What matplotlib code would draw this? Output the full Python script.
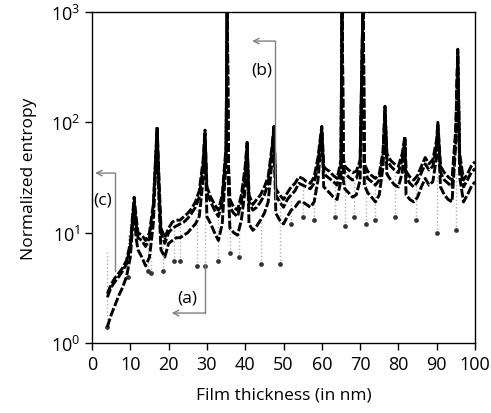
import matplotlib
matplotlib.use("Agg")
import matplotlib.pyplot as plt
import numpy as np

plt.rcParams['font.family'] = ['Open Sans', 'DejaVu Sans']

thickness = [4,5,6,7,8,9,10,11,11.5,12,13,14,15,16,17,17.5,18,19,20,21,22,23,24,25,26,27,28,29,29.5,
             30,31,32,33,34,35,35.3,35.6,36,37,38,39,40,40.5,41,42,43,44,45,46,47,47.5,48,49,50,
             51,52,53,54,55,56,57,58,59,60,60.5,61,62,63,64,65,65.3,65.6,66,67,68,69,70,70.8,71.1,
             72,73,74,75,76,76.5,77,78,79,80,81,81.7,82,83,84,85,86,87,88,89,90,90.3,91,92,93,94,
             95,95.5,96,97,98,99,100]

entropy_c = [2.8,3.4,3.9,4.3,4.8,5.6,8,21,14,10,9.5,8.5,10,18,92,30,11,9,11,12.5,13,13,14,15,16.5,19,24,45,85,
             26,21,18,16,22,60,1500,45,20,17,16,22,40,66,22,18,20,22,26,32,60,92,25,22,20,
             23,26,28,32,31,29,28,32,48,92,40,38,36,33,31,45,1500,48,40,37,35,36,45,1500,42,
             36,33,31,34,55,140,52,45,42,40,52,75,36,32,30,33,40,48,42,46,70,100,40,35,32,30,
             90,460,52,30,34,40,44]

entropy_b = [2.6,3.2,3.6,4.0,4.5,5.2,7.5,19,12,9,8.5,7.5,9,16,85,26,10,8,10,11,11.5,12,12.5,13.5,15,17,21,40,80,
             23,19,16,14,19,55,1500,40,17,15,14,19,35,62,19,16,17,19,22,28,55,88,22,19,17,
             20,22,24,28,27,26,25,28,42,88,35,33,31,29,27,40,1500,42,35,32,30,31,40,1500,37,
             31,29,27,30,50,130,46,40,37,35,46,70,32,28,26,29,35,42,37,40,62,95,35,30,28,26,
             80,430,45,26,30,35,38]

entropy_a = [1.4,1.8,2.2,2.7,3.2,4.0,6,17,9,7,6,5,6,12,80,18,7,6,8,8.5,9,9,9.5,10,11,12,14,30,70,
             14,12,10,8.5,12,45,1500,25,11,10,9.5,13,25,55,12,10.5,11.5,13,15,19,45,80,15,13,12,
             14,16,17,19,19,18,17,19,30,80,26,25,23,21,20,30,1500,30,25,23,21,22,30,1500,27,
             23,21,19,22,40,120,34,30,27,26,35,60,22,20,19,21,26,31,27,29,50,85,26,22,20,19,
             65,400,32,19,22,26,29]

drop_x  = [4, 9.5, 14.5, 15.5, 18.5, 21.5, 23, 27.5, 29.5, 33, 36, 38.5, 44, 49, 52, 55, 58,
           63.5, 66, 68.5, 71.5, 74, 79, 84.5, 90, 95]
drop_lo = [1.4, 4, 4.5, 4.3, 4.5, 5.5, 5.5, 5, 5, 5.5, 6.5, 6, 5.2, 5.2, 12, 14, 13,
           14, 11.5, 14, 12, 13, 14, 13, 10, 10.5]
drop_hi = [7, 10, 9, 14, 10, 12, 12, 17, 20, 15, 15, 12, 14, 20, 20, 28, 25,
           30, 35, 30, 35, 30, 38, 30, 35, 35]

fig = plt.figure(figsize=(4.91, 4.14), dpi=100)
ax = fig.add_axes([0.1874, 0.169, 0.78, 0.7996])

for xv, lo, hi in zip(drop_x, drop_lo, drop_hi):
    ax.plot([xv, xv], [lo, hi], color='#b0b0b0', ls=':', lw=1.0, zorder=1)
    ax.plot([xv], [lo], marker='o', ms=2.4, color='#333333', zorder=2)

for ys in (entropy_c, entropy_b, entropy_a):
    ax.plot(thickness, ys, color='black', lw=2.1, ls=(0, (3, 0.8)), zorder=3)

grey = '#808080'
# (a)
ax.plot([29.5, 29.5], [5.2, 1.87], color=grey, lw=1.0, zorder=4)
ax.annotate('', xy=(20.8, 1.87), xytext=(29.5, 1.87),
            arrowprops=dict(arrowstyle='->', color=grey, lw=1.0, shrinkA=0, shrinkB=0))
ax.text(24.8, 2.6, '(a)', ha='center', va='center', fontsize=12.5)
# (b)
ax.plot([47.8, 47.8], [20, 545], color=grey, lw=1.0, zorder=4)
ax.annotate('', xy=(41.8, 545), xytext=(47.8, 545),
            arrowprops=dict(arrowstyle='->', color=grey, lw=1.0, shrinkA=0, shrinkB=0))
ax.text(44.4, 303, '(b)', ha='center', va='center', fontsize=12.5)
# (c)
ax.plot([6.0, 6.0], [4.5, 34.7], color=grey, lw=1.0, zorder=4)
ax.annotate('', xy=(0.8, 34.7), xytext=(6.0, 34.7),
            arrowprops=dict(arrowstyle='->', color=grey, lw=1.0, shrinkA=0, shrinkB=0))
ax.text(2.8, 20, '(c)', ha='center', va='center', fontsize=12.5)

ax.set_yscale('log')
ax.set_xlim(0, 100)
ax.set_ylim(1, 1000)
ax.set_xticks(range(0, 101, 10))
ax.set_yticks([1, 10, 100, 1000])
ax.yaxis.set_minor_locator(matplotlib.ticker.NullLocator())
ax.tick_params(axis='both', which='major', direction='out', length=5, width=1, labelsize=13)
ax.tick_params(top=False, right=False)
ax.set_xlabel('Film thickness (in nm)', fontsize=12.5, labelpad=10)
ax.set_ylabel('Normalized entropy', fontsize=12.5, labelpad=10)
for s in ax.spines.values():
    s.set_linewidth(1.0)

fig.savefig('out.png', dpi=100)
